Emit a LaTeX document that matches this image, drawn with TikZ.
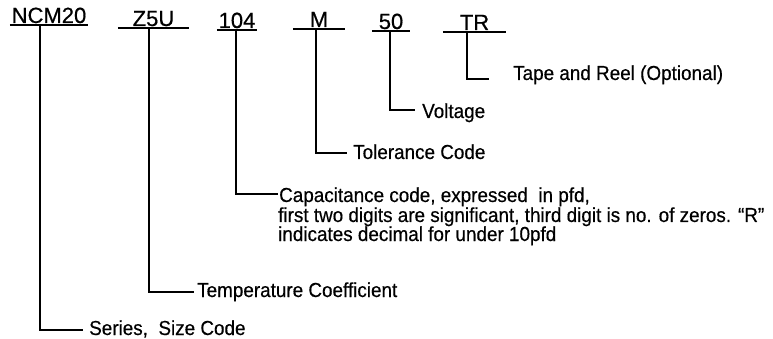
\documentclass[tikz,border=0pt]{standalone}
\usepackage{fontspec}
\setmainfont{Liberation Sans}
\newfontfamily\lblfont[FakeStretch=0.93,FakeBold=0.4]{Liberation Sans}
\newfontfamily\hdrfont[FakeBold=0.6]{Liberation Sans}
\begin{document}
\begin{tikzpicture}[x=1pt,y=-1pt,
  hdr/.style={font=\hdrfont\fontsize{22}{24}\selectfont, inner xsep=0pt, inner ysep=0pt, text depth=2pt, anchor=base},
  uline/.style={line width=1.7pt},
  lbl/.style={font=\lblfont\fontsize{20.3}{21}\selectfont, inner ysep=0pt, anchor=base west},
  conn/.style={line width=1.4pt}]
\useasboundingbox (0,0) rectangle (773,339);
% header codes
\node[hdr, minimum width=78pt] (hNCM) at (49,23) {NCM20};
\node[hdr, minimum width=71pt] (hZ5U) at (153.5,26) {Z5U};
\node[hdr, minimum width=40pt] (h104) at (237,28) {104};
\node[hdr, minimum width=52pt] (hM) at (319,27) {M};
\node[hdr, minimum width=38pt] (h50) at (391,29) {50};
\node[hdr, minimum width=63pt] (hTR) at (474.5,30) {TR};
\foreach \n in {hNCM,hZ5U,h104,hM,h50,hTR}
  \draw[uline] (\n.south west) -- (\n.south east);
% corners
\coordinate (cTR) at (467,79);
\coordinate (c50) at (390,110);
\coordinate (cM) at (316,153);
\coordinate (c104) at (236,194);
\coordinate (cZ5U) at (149,292);
\coordinate (cNCM) at (40,330);
% labels
\node[lbl, inner xsep=24pt] (lTR) at (489,80) {Tape and Reel (Optional)};
\node[lbl, inner xsep=7pt] (l50) at (415,118) {Voltage};
\node[lbl, inner xsep=6pt] (lM) at (347,159) {Tolerance Code};
\node[lbl, inner xsep=1pt] (l104a) at (278,202) {Capacitance code, expressed\ \ in pfd,};
\node[lbl, inner xsep=0pt] (l104b) at (278,222) {first two digits are significant, third digit is no. of zeros. “R”};
\node[lbl, inner xsep=0pt] (l104c) at (278,241) {indicates decimal for under 10pfd};
\node[lbl, inner xsep=3pt] (lZ5U) at (194,297) {Temperature Coefficient};
\node[lbl, inner xsep=6pt] (lNCM) at (83,335) {Series,\ \ Size Code};
% connectors
\draw[conn] (hTR.south -| cTR) -- (cTR) -- (lTR.west |- cTR);
\draw[conn] (h50.south -| c50) -- (c50) -- (l50.west |- c50);
\draw[conn] (hM.south -| cM) -- (cM) -- (lM.west |- cM);
\draw[conn] (h104.south -| c104) -- (c104) -- (l104a.west |- c104);
\draw[conn] (hZ5U.south -| cZ5U) -- (cZ5U) -- (lZ5U.west |- cZ5U);
\draw[conn] (hNCM.south -| cNCM) -- (cNCM) -- (lNCM.west |- cNCM);
\end{tikzpicture}
\end{document}
